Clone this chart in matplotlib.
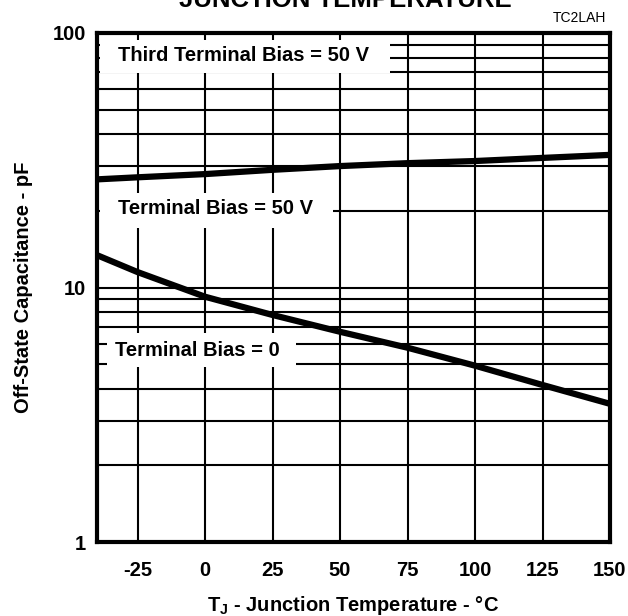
import matplotlib
matplotlib.use("Agg")
import matplotlib.pyplot as plt
from matplotlib.patches import Rectangle
from matplotlib.ticker import FixedLocator, NullFormatter

# Data
temps = [-40, -25, 0, 25, 50, 75, 100, 125, 150]
cap_upper = [26.6, 27.1, 27.9, 29.0, 30.0, 30.8, 31.4, 32.3, 33.2]
cap_lower = [13.4, 11.5, 9.2, 7.8, 6.7, 5.8, 4.93, 4.14, 3.49]
x_ticks = [-25, 0, 25, 50, 75, 100, 125, 150]
x_tick_labels = ["-25", "0", "25", "50", "75", "100", "125", "150"]
y_ticks = [1, 10, 100]
y_tick_labels = ["1", "10", "100"]
y_minor = [2, 3, 4, 5, 6, 7, 8, 9, 20, 30, 40, 50, 60, 70, 80, 90]

plt.rcParams['font.family'] = ['Liberation Sans', 'DejaVu Sans']
FS = 14.5

fig = plt.figure(figsize=(6.28, 6.16), dpi=100)
ax = fig.add_axes([97/628, 74/616, 513/628, 509/616])
ax.set_yscale('log')
ax.set_xlim(-40, 150)
ax.set_ylim(1, 100)

ax.set_xticks(x_ticks)
ax.set_xticklabels(x_tick_labels, fontsize=FS, fontweight='bold')
ax.set_yticks(y_ticks)
ax.set_yticklabels(y_tick_labels, fontsize=FS, fontweight='bold')
ax.yaxis.set_minor_locator(FixedLocator(y_minor))
ax.yaxis.set_minor_formatter(NullFormatter())
ax.tick_params(which='both', length=0)
ax.tick_params(axis='x', pad=14)
ax.tick_params(axis='y', pad=8)

ax.set_axisbelow(True)
ax.grid(True, which='major', color='black', linewidth=1.5)
ax.grid(True, which='minor', axis='y', color='black', linewidth=1.5)

for s in ax.spines.values():
    s.set_linewidth(3)
    s.set_color('black')

ax.plot(temps, cap_upper, color='black', linewidth=4.5, zorder=3, solid_capstyle='butt')
ax.plot(temps, cap_lower, color='black', linewidth=4.5, zorder=3, solid_capstyle='butt')

def box(x0, x1, y0, y1):
    ax.add_patch(Rectangle((x0, y0), x1 - x0, y1 - y0, transform=ax.transAxes,
                           facecolor='white', edgecolor='none', zorder=2, clip_on=False))

box(0.006, 0.571, 0.921, 0.986)
box(0.006, 0.460, 0.617, 0.686)
box(0.0195, 0.388, 0.344, 0.411)

ax.text(0.041, 0.955, "Third Terminal Bias = 50 V", transform=ax.transAxes,
        fontsize=FS, fontweight='bold', ha='left', va='center', zorder=4)
ax.text(0.041, 0.656, "Terminal Bias = 50 V", transform=ax.transAxes,
        fontsize=FS, fontweight='bold', ha='left', va='center', zorder=4)
ax.text(0.035, 0.377, "Terminal Bias = 0", transform=ax.transAxes,
        fontsize=FS, fontweight='bold', ha='left', va='center', zorder=4)

ax.set_xlabel(r"T$_\mathregular{J}$ - Junction Temperature - °C", fontsize=FS,
              fontweight='bold', labelpad=10)
ax.set_ylabel("Off-State Capacitance - pF", fontsize=FS, fontweight='bold', labelpad=14)

fig.text(345/628, 1 - 0/616, "JUNCTION TEMPERATURE", fontsize=18.5, fontweight='bold',
         ha='center', va='center')
fig.text(606/628, 1 - 18/616, "TC2LAH", fontsize=10, ha='right', va='center')

fig.savefig("out.png", dpi=100)
